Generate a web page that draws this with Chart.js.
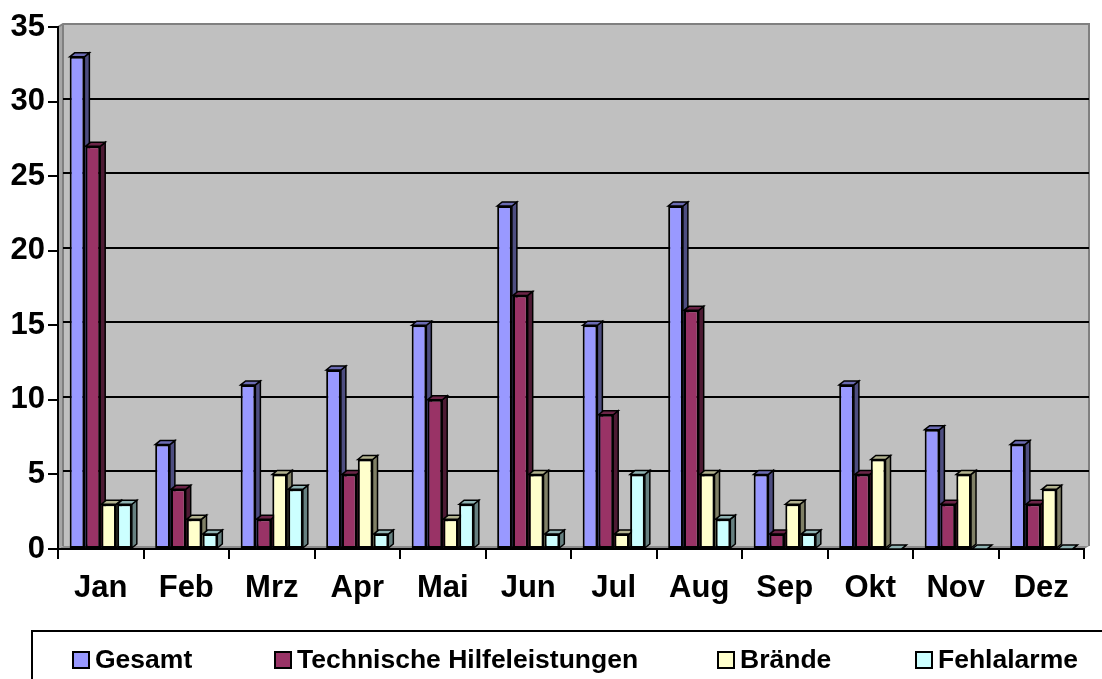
<!DOCTYPE html>
<html>
<head>
<meta charset="utf-8">
<title>Einsätze pro Monat</title>
<script src="https://cdn.jsdelivr.net/npm/chart.js"></script>
<style>
  html, body { margin: 0; padding: 0; background: #fff; overflow: hidden; }
  #wrap { position: relative; width: 1102px; height: 679px; }
  #chart { position: absolute; left: 0; top: 0; }
  #legend {
    position: absolute; left: 31px; top: 630px; width: 1100px; height: 80px;
    border: 2px solid #000; box-sizing: border-box;
    font: bold 26.5px "Liberation Sans", Arial, sans-serif; color: #000;
  }
  #legend .item { position: absolute; top: 12px; display: flex; align-items: center; white-space: nowrap; }
  #legend .box { width: 14px; height: 14px; border: 2px solid #000; margin-right: 5px; }
</style>
</head>
<body>
<div id="wrap">
  <canvas id="chart" width="1102" height="679"></canvas>
  <div id="legend"></div>
</div>
<script>
// data
const months = ['Jan', 'Feb', 'Mrz', 'Apr', 'Mai', 'Jun', 'Jul', 'Aug', 'Sep', 'Okt', 'Nov', 'Dez'];
const gesamt = [33, 7, 11, 12, 15, 23, 15, 23, 5, 11, 8, 7];
const technisch = [27, 4, 2, 5, 10, 17, 9, 16, 1, 5, 3, 3];
const braende = [3, 2, 5, 6, 2, 5, 1, 5, 3, 6, 5, 4];
const fehlalarme = [3, 1, 4, 1, 3, 1, 5, 2, 1, 0, 0, 0];
const seriesNames = ['Gesamt', 'Technische Hilfeleistungen', 'Brände', 'Fehlalarme'];
const seriesColors = ['#9999FF', '#993366', '#FFFFCC', '#CCFFFF'];
const yMax = 35;
const yStep = 5;

const FONT = '"Liberation Sans", Arial, sans-serif';

// darken a hex colour
const shade = (hex, f) => {
  const n = parseInt(hex.slice(1), 16);
  const r = Math.round(((n >> 16) & 255) * f), g = Math.round(((n >> 8) & 255) * f), b = Math.round((n & 255) * f);
  return `rgb(${r},${g},${b})`;
};

// back wall, side wall and floor (Excel 3D look)
const WALL_DX = 5, WALL_DY = 3;
const wallPlugin = {
  id: 'wall3d',
  beforeDraw(chart) {
    const { ctx, chartArea: a, scales } = chart;
    const dx = WALL_DX, dy = WALL_DY;
    ctx.save();
    // back wall
    ctx.fillStyle = '#C0C0C0';
    ctx.fillRect(a.left + dx, a.top - dy, a.right - a.left, a.bottom - a.top);
    // left wall
    ctx.fillStyle = '#A6A6A6';
    ctx.beginPath();
    ctx.moveTo(a.left, a.top); ctx.lineTo(a.left + dx, a.top - dy);
    ctx.lineTo(a.left + dx, a.bottom - dy); ctx.lineTo(a.left, a.bottom);
    ctx.closePath(); ctx.fill();
    // floor
    ctx.fillStyle = '#8C8C8C';
    ctx.beginPath();
    ctx.moveTo(a.left, a.bottom); ctx.lineTo(a.left + dx, a.bottom - dy);
    ctx.lineTo(a.right + dx, a.bottom - dy); ctx.lineTo(a.right, a.bottom);
    ctx.closePath(); ctx.fill();
    // wall edges
    ctx.strokeStyle = '#808080';
    ctx.lineWidth = 2;
    ctx.beginPath();
    ctx.moveTo(a.left, a.top); ctx.lineTo(a.left + dx, a.top - dy);
    ctx.lineTo(a.right + dx, a.top - dy); ctx.lineTo(a.right + dx, a.bottom - dy);
    ctx.stroke();
    ctx.beginPath();
    ctx.moveTo(a.left + dx, a.top - dy); ctx.lineTo(a.left + dx, a.bottom - dy);
    ctx.stroke();
    // gridlines on the back wall
    ctx.strokeStyle = '#000';
    ctx.lineWidth = 2;
    for (let v = yStep; v < yMax; v += yStep) {
      const y = Math.round(scales.y.getPixelForValue(v)) - dy;
      ctx.beginPath();
      ctx.moveTo(a.left + dx, y); ctx.lineTo(a.right + dx, y);
      ctx.stroke();
    }
    ctx.restore();
  }
};

// top and side faces of the bars, drawn behind the front faces
const BAR_DX = 5, BAR_DY = 4;
const barDepthPlugin = {
  id: 'barDepth',
  beforeDatasetsDraw(chart) {
    const { ctx } = chart;
    ctx.save();
    ctx.strokeStyle = '#000';
    ctx.lineWidth = 1.5;
    ctx.lineJoin = 'miter';
    chart.data.datasets.forEach((ds, i) => {
      const meta = chart.getDatasetMeta(i);
      meta.data.forEach(el => {
        const { x, y, base, width } = el.getProps(['x', 'y', 'base', 'width'], true);
        const xl = x - width / 2, xr = x + width / 2;
        // side
        ctx.fillStyle = shade(ds.backgroundColor, 0.5);
        ctx.beginPath();
        ctx.moveTo(xr, y); ctx.lineTo(xr + BAR_DX, y - BAR_DY);
        ctx.lineTo(xr + BAR_DX, base - BAR_DY); ctx.lineTo(xr, base);
        ctx.closePath(); ctx.fill(); ctx.stroke();
        // top
        ctx.fillStyle = shade(ds.backgroundColor, 0.7);
        ctx.beginPath();
        ctx.moveTo(xl, y); ctx.lineTo(xl + BAR_DX, y - BAR_DY);
        ctx.lineTo(xr + BAR_DX, y - BAR_DY); ctx.lineTo(xr, y);
        ctx.closePath(); ctx.fill(); ctx.stroke();
      });
    });
    ctx.restore();
  }
};

const seriesData = [gesamt, technisch, braende, fehlalarme];

new Chart(document.getElementById('chart'), {
  type: 'bar',
  data: {
    labels: months,
    datasets: seriesData.map((d, i) => ({
      label: seriesNames[i],
      data: d,
      backgroundColor: seriesColors[i],
      borderColor: '#000',
      borderWidth: 2,
      borderSkipped: false,
      categoryPercentage: 0.74,
      barPercentage: 0.93
    }))
  },
  options: {
    responsive: false,
    animation: false,
    events: [],
    layout: { padding: { top: 27, right: 18, left: 0, bottom: 0 } },
    plugins: {
      legend: { display: false },
      tooltip: { enabled: false }
    },
    scales: {
      x: {
        grid: { offset: true, drawOnChartArea: false, drawTicks: true, tickLength: 10, color: '#000', lineWidth: 2 },
        border: { color: '#000', width: 2 },
        ticks: { color: '#000', font: { family: FONT, size: 31, weight: 'bold' }, padding: 11, maxRotation: 0 },
        afterFit: s => { s.height = 130; }
      },
      y: {
        min: 0,
        max: yMax,
        grid: { drawOnChartArea: false, drawTicks: true, tickLength: 10, color: '#000', lineWidth: 2 },
        border: { color: '#000', width: 2 },
        ticks: { stepSize: yStep, color: '#000', font: { family: FONT, size: 31, weight: 'bold' }, padding: 3 },
        afterFit: s => { s.width = 58; }
      }
    }
  },
  plugins: [wallPlugin, barDepthPlugin]
});

// legend
const legendLefts = [39, 241, 684, 882];
const legend = document.getElementById('legend');
seriesNames.forEach((name, i) => {
  const item = document.createElement('div');
  item.className = 'item';
  item.style.left = legendLefts[i] + 'px';
  const box = document.createElement('span');
  box.className = 'box';
  box.style.background = seriesColors[i];
  const txt = document.createElement('span');
  txt.textContent = name;
  item.appendChild(box);
  item.appendChild(txt);
  legend.appendChild(item);
});
</script>
</body>
</html>
